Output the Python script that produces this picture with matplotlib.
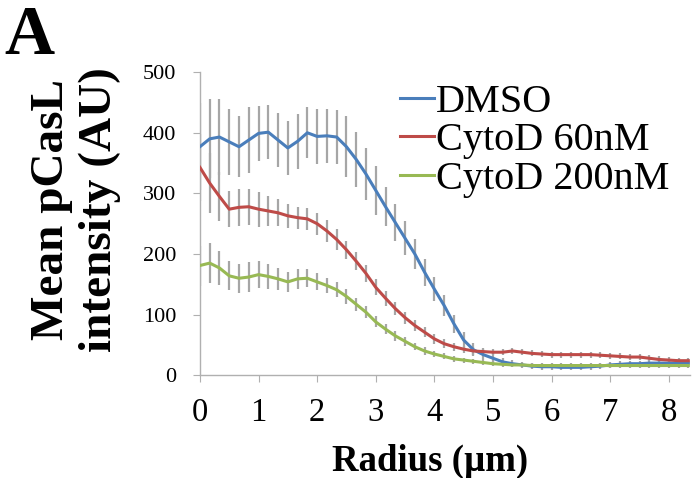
import numpy as np
import matplotlib
matplotlib.use("Agg")
import matplotlib.pyplot as plt

plt.rcParams['font.family'] = ['Liberation Serif', 'DejaVu Serif']

# radius (um), one point every 1/6 um
radius = [0.0, 0.167, 0.333, 0.5, 0.667, 0.833, 1.0, 1.167, 1.333, 1.5,
          1.667, 1.833, 2.0, 2.167, 2.333, 2.5, 2.667, 2.833, 3.0, 3.167,
          3.333, 3.5, 3.667, 3.833, 4.0, 4.167, 4.333, 4.5, 4.667, 4.833,
          5.0, 5.167, 5.333, 5.5, 5.667, 5.833, 6.0, 6.167, 6.333, 6.5,
          6.667, 6.833, 7.0, 7.167, 7.333, 7.5, 7.667, 7.833, 8.0, 8.167, 8.333]

dmso = [377, 390, 393, 385, 377, 388, 399, 401, 388, 375,
        386, 400, 394, 395, 393, 377, 356, 332, 305, 278,
        252, 226, 200, 170, 142, 115, 85, 58, 42, 34,
        28, 22, 19, 17, 15, 14, 14, 13, 13, 13,
        14, 15, 17, 18, 19, 19, 20, 20, 20, 20, 20]
dmso_err = [72, 65, 62, 55, 50, 55, 45, 45, 45, 45,
            45, 42, 45, 45, 45, 50, 45, 43, 40, 32,
            30, 28, 25, 22, 20, 18, 15, 13, 11, 9,
            8, 7, 6, 5, 5, 5, 5, 5, 5, 5,
            5, 5, 5, 5, 5, 5, 5, 5, 5, 5, 5]

cytod60 = [343, 317, 295, 274, 277, 278, 274, 271, 268, 263,
           260, 258, 250, 238, 224, 207, 188, 168, 145, 127,
           110, 95, 82, 71, 60, 52, 47, 43, 40, 39,
           38, 38, 40, 38, 36, 35, 34, 34, 34, 34,
           34, 33, 32, 31, 30, 30, 28, 26, 25, 24, 24]
cytod60_err = [55, 50, 40, 30, 30, 30, 29, 25, 22, 20,
               18, 18, 18, 18, 17, 15, 15, 14, 13, 12,
               10, 10, 9, 8, 8, 7, 7, 6, 6, 6,
               5, 5, 5, 5, 5, 5, 5, 5, 5, 5,
               5, 5, 5, 5, 5, 5, 5, 5, 5, 5, 5]

cytod200 = [181, 185, 177, 164, 160, 162, 166, 163, 159, 154,
            159, 160, 154, 148, 141, 130, 117, 104, 88, 76,
            65, 56, 47, 40, 35, 31, 27, 25, 23, 21,
            19, 18, 17, 17, 16, 16, 16, 16, 16, 16,
            16, 16, 16, 16, 16, 16, 16, 16, 16, 16, 16]
cytod200_err = [33, 33, 28, 24, 24, 24, 22, 20, 18, 17,
                16, 15, 14, 13, 12, 12, 11, 10, 9, 8,
                8, 7, 6, 6, 5, 5, 5, 4, 4, 4,
                4, 4, 4, 4, 4, 4, 4, 4, 4, 4,
                4, 4, 4, 4, 4, 4, 4, 4, 4, 4, 4]

labels = ["DMSO", "CytoD 60nM", "CytoD 200nM"]
colors = ["#4a7ebb", "#be4b48", "#98b954"]

fig = plt.figure(figsize=(6.99, 4.78), dpi=100)
ax = fig.add_axes([0.286, 0.215, 0.701, 0.634])

series = [(dmso, dmso_err), (cytod60, cytod60_err), (cytod200, cytod200_err)]
for (vals, err) in series:
    ax.errorbar(radius, vals, yerr=err, fmt='none', ecolor="#a6a6a6",
                elinewidth=1.6, capsize=0, zorder=2)
for (vals, err), lab, c in zip(series, labels, colors):
    ax.plot(radius, vals, color=c, lw=2.2, label=lab, zorder=3)

ax.set_xlim(0, 8.36)
ax.set_ylim(0, 500)
ax.set_xticks(range(0, 9))
ax.set_yticks(range(0, 501, 100))
for s in ["top", "right"]:
    ax.spines[s].set_visible(False)
for s in ["left", "bottom"]:
    ax.spines[s].set_color("#b0b0b0")
    ax.spines[s].set_linewidth(1.0)
ax.tick_params(axis='x', direction='out', length=5, color="#b0b0b0",
               labelsize=23.5, pad=11)
ax.tick_params(axis='y', direction='out', length=5, color="#b0b0b0",
               labelsize=16, pad=12)

fig.text(430 / 699, 0.034, "Radius (µm)", fontsize=26.5, fontweight='bold',
         ha='center', va='center')
fig.text(76 / 699, 0.561, "Mean pCasL\nintensity (AU)", rotation=90,
         fontsize=34, fontweight='bold', ha='center', va='center',
         linespacing=1.15)
fig.text(0.006, 0.99, "A", fontsize=50, fontweight='bold', va='top')

ax.legend(loc='upper left', bbox_to_anchor=(0.543, 0.867),
          bbox_transform=fig.transFigure, frameon=False, fontsize=29,
          handlelength=0.85, handletextpad=0.05, labelspacing=0.03,
          borderpad=0)

fig.savefig("out.png", dpi=100)
